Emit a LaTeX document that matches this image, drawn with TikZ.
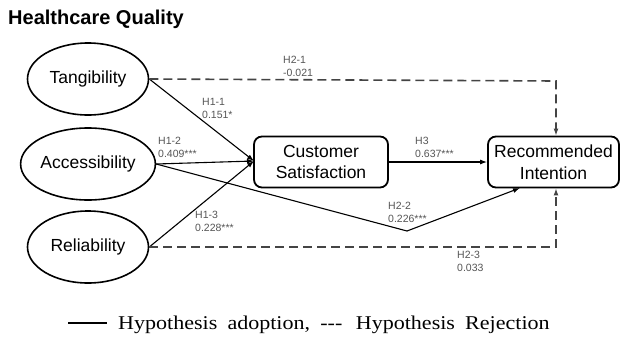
\documentclass[tikz,border=0pt]{standalone}
\usepackage{fontspec}
\setmainfont{Liberation Serif}
\setsansfont{Liberation Sans}
\usetikzlibrary{shapes.geometric,arrows.meta}
\definecolor{lblgray}{HTML}{555555}
\definecolor{dashgray}{HTML}{444444}
\tikzset{
  ell/.style={draw, line width=1.6pt, ellipse, minimum width=121pt, minimum height=72pt, inner sep=0pt, font=\sffamily\fontsize{17.5}{21}\selectfont},
  bx/.style={draw, line width=1.8pt, rounded corners=8pt, align=center, inner sep=0pt, font=\sffamily\fontsize{17.5}{21.5}\selectfont},
  conn/.style={line width=1.1pt, -{Latex[length=7pt,width=5pt]}},
  dconn/.style={line width=1.6pt, dashgray, dash pattern=on 9pt off 5pt, -{Latex[length=7pt,width=5pt]}},
  lbl/.style={text=lblgray, font=\sffamily\fontsize{10.5}{13}\selectfont, align=left, anchor=north west, inner sep=0pt},
}
\begin{document}
\begin{tikzpicture}[x=1pt,y=-1pt]
\useasboundingbox (0,0) rectangle (621,338);
\node[anchor=west, inner sep=0pt, font=\sffamily\bfseries\fontsize{20}{22}\selectfont] (title) at (8,19) {Healthcare Quality};

\node[ell] (tan) at (88,79) {Tangibility};
\node[ell] (acc) at (88,164) {Accessibility};
\node[ell] (rel) at (88,247) {Reliability};

\node[bx, minimum width=134pt, minimum height=51pt] (cs) at (321,162) {Customer\\Satisfaction};
\node[bx, minimum width=131pt, minimum height=51pt] (ri) at (553.5,162) {Recommended\\Intention};

\coordinate (csin) at (254,161);
\coordinate (h21) at (556,81);
\coordinate (h22) at (407,231);
\coordinate (h23) at (556,247);
\coordinate (rib) at (520,188);

\draw[conn] (tan.east) -- (csin);
\draw[conn] (acc.east) -- (csin);
\draw[conn] (rel.east) -- (csin);
\draw[conn] (cs.east) -- (ri.west);
\draw[line width=1.1pt] (acc.east) -- (h22);
\draw[conn] (h22) -- (rib);
\draw[dconn] (tan.east) -- (h21) -- (h21 |- ri.north);
\draw[dconn] (rel.east) -- (h23) -- (h23 |- ri.south);

\node[lbl] (l21) at (283,56) {H2-1\\-0.021};
\node[lbl] (l11) at (202,98) {H1-1\\0.151*};
\node[lbl] (l12) at (158,137) {H1-2\\0.409***};
\node[lbl] (l13) at (195,211) {H1-3\\0.228***};
\node[lbl] (l3) at (415,137) {H3\\0.637***};
\node[lbl] (l22) at (388,202) {H2-2\\0.226***};
\node[lbl] (l23) at (457,251) {H2-3\\0.033};

\draw[line width=1.3pt] (68,323) -- (107,323);
\node[anchor=base west, inner sep=0pt, font=\rmfamily\fontsize{19.5}{22}\selectfont] (legend) at (118,329) {\scalebox{1.13}[1]{Hypothesis\hspace{9pt}adoption,\hspace{9pt}{-}{-}{-}\hspace{12pt}Hypothesis\hspace{9pt}Rejection}};
\end{tikzpicture}
\end{document}
